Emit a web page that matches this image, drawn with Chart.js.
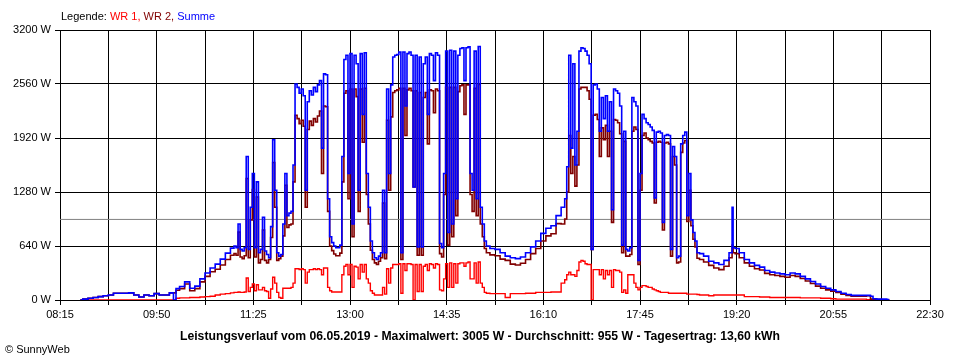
<!DOCTYPE html>
<html><head><meta charset="utf-8">
<script src="https://cdn.jsdelivr.net/npm/chart.js@4.4.1/dist/chart.umd.min.js"></script>
<style>
html,body{margin:0;padding:0;background:#fff;}
#wrap{position:relative;width:960px;height:360px;overflow:hidden;}
canvas{position:absolute;left:0;top:0;}
.t{position:absolute;font-family:"Liberation Sans",Arial,sans-serif;font-size:11px;white-space:nowrap;line-height:13px;color:#000;}
#title{left:0;width:960px;text-align:center;top:330px;font-weight:bold;font-size:12px;}
#title span{display:inline-block;transform-origin:50% 50%;}
</style></head><body>
<div id="wrap">
<canvas id="c" width="960" height="360"></canvas>
<div class="t" id="legend" style="left:61px;top:10px;">Legende: <span style="color:#ff0000">WR 1,</span> <span style="color:#800000">WR 2,</span> <span style="color:#0000ff">Summe</span></div>
<div class="t" id="title"><span id="titleText">Leistungsverlauf vom 06.05.2019 - Maximalwert: 3005 W - Durchschnitt: 955 W - Tagesertrag: 13,60 kWh</span></div>
<div class="t" id="copy" style="left:5px;top:343px;">© SunnyWeb</div>
</div>
<script>
// ---- data ----
const xTickLabels = ["08:15","09:50","11:25","13:00","14:35","16:10","17:45","19:20","20:55","22:30"];
const yTicks = [0, 640, 1280, 1920, 2560, 3200];
const average = 955;

const times = [
"08:35","08:40","08:45","08:50","08:55","09:00","09:05","09:10","09:15","09:20","09:25","09:30","09:35","09:40","09:45","09:50","09:55","10:00","10:05","10:08","10:10","10:15","10:20","10:25","10:30","10:35","10:40","10:45","10:50","10:55","11:00","11:05",
"11:07","11:09","11:11","11:13","11:15","11:17","11:19","11:21","11:23","11:25",
"11:27","11:29","11:31","11:33","11:35","11:37","11:39","11:41","11:43","11:45",
"11:47","11:49","11:51","11:53","11:55","11:57","11:59","12:01","12:03","12:05",
"12:07","12:09","12:11","12:13","12:15","12:17","12:19","12:21","12:23","12:25",
"12:27","12:29","12:31","12:33","12:35","12:37","12:39","12:41","12:43","12:45",
"12:47","12:49","12:51","12:53","12:55","12:57","12:59","13:01","13:03","13:05",
"13:07","13:09","13:11","13:13","13:15","13:17","13:19","13:21","13:23","13:25",
"13:27","13:29","13:31","13:33","13:35","13:37","13:39","13:41","13:43","13:45",
"13:47","13:49","13:51","13:53","13:55","13:57","13:59","14:01","14:03","14:05",
"14:07","14:09","14:11","14:13","14:15","14:17","14:19","14:21","14:23","14:25",
"14:27","14:29","14:31","14:33","14:35","14:37","14:39","14:41","14:43","14:45",
"14:47","14:49","14:51","14:53","14:55","14:57","14:59","15:01","15:03","15:05",
"15:07","15:09","15:11","15:13","15:15",
"15:20","15:25","15:30","15:35","15:40","15:45","15:50","15:55","16:00","16:05","16:10","16:15","16:20","16:25","16:30",
"16:32","16:34","16:36","16:38","16:40","16:42","16:44","16:46","16:48","16:50",
"16:52","16:54","16:56","16:58","17:00","17:02","17:04","17:06","17:08","17:10",
"17:12","17:14","17:16","17:18","17:20","17:22","17:24","17:26","17:28","17:30",
"17:32","17:34","17:36","17:38","17:40","17:42","17:44","17:46","17:48","17:50",
"17:52","17:54","17:56","17:58","18:00","18:02","18:04","18:06","18:08","18:10",
"18:12","18:14","18:16","18:18","18:20","18:22","18:24","18:26","18:28","18:30",
"18:32","18:34","18:36","18:38","18:40",
"18:42","18:45","18:50","18:55","19:00","19:05","19:10","19:15","19:16","19:17","19:20","19:25","19:30","19:35","19:40","19:45","19:50","19:55","20:00","20:05","20:10","20:15","20:20","20:25","20:30","20:35","20:40","20:45","20:50","20:55","21:00","21:05","21:10","21:15","21:20","21:25","21:30","21:33","21:35","21:40","21:45","21:50"
];

const summe = [
0,10,20,30,40,50,60,80,80,80,85,60,35,60,50,75,60,60,85,0,135,160,215,140,165,250,320,380,425,485,555,615,
640,620,900,600,580,620,1700,600,1100,1500,
620,1400,560,600,980,580,540,500,870,1900,
1300,560,520,540,900,1500,1000,1030,1050,1600,
2560,2520,2450,2500,2420,1300,2350,2480,2430,2520,
2470,2550,2600,1800,2680,2670,1200,750,680,640,
620,620,650,1700,2850,2900,1500,2920,900,2900,
2800,1300,2920,2200,2930,1500,1100,700,560,500,
480,520,560,1300,560,2500,1500,2550,2880,2900,
2910,2940,560,2940,2300,2920,2940,2900,1340,2900,
630,2880,630,2800,2880,2200,2920,2900,2600,2930,
2900,670,620,1500,2950,800,2960,900,2950,1200,
2900,2980,2990,2600,2990,3000,1500,1300,2950,1200,
3005,1100,900,700,640,
610,600,560,520,500,490,510,560,630,700,790,850,880,1000,1100,
1200,1580,2900,1800,2800,1600,2000,2950,2990,2980,
2950,2900,2800,600,2550,2560,2500,2000,2400,2150,
2420,2000,2350,1070,2500,2480,2450,2300,650,2000,
600,580,620,2400,2350,2300,470,1500,2200,2150,
2100,2080,2050,2010,1210,1990,2000,1980,920,1950,
1960,1950,600,1820,1700,500,520,1850,1950,1990,
1000,1500,950,800,700,
560,550,520,460,440,420,470,560,1100,620,610,560,480,440,410,390,350,330,320,310,300,320,310,280,250,220,190,160,140,120,100,80,65,55,55,55,55,45,15,10,10,5
];

const wr1 = [
0,0,0,0,0,0,0,0,0,0,0,0,0,0,0,0,0,0,0,0,20,25,25,30,30,35,40,45,60,70,75,85,
90,90,95,90,90,95,260,100,150,190,
110,180,120,120,150,110,100,20,130,270,
200,90,30,20,140,140,140,140,150,200,
370,370,360,370,360,200,330,360,360,370,
360,370,360,300,380,380,150,110,95,95,
95,95,95,300,400,420,300,420,150,400,
390,250,420,330,420,250,200,110,80,60,
60,60,60,150,70,370,200,380,420,420,
420,430,80,430,350,430,430,420,0,420,
100,420,100,400,420,350,430,420,380,430,
420,120,110,250,430,150,440,150,430,200,
430,440,440,400,440,450,250,250,440,200,
450,200,150,90,80,
75,75,75,30,75,75,75,80,80,90,90,90,95,95,200,
240,300,330,300,300,280,350,450,470,460,
430,420,420,0,360,360,360,300,360,250,
350,300,350,150,360,350,350,330,90,120,
80,300,300,300,200,150,120,150,170,170,
160,150,150,130,120,110,100,90,90,90,
90,80,80,80,80,80,80,80,80,80,
70,70,70,70,70,
65,60,60,50,60,60,60,60,60,60,60,60,40,40,40,35,35,30,30,30,30,30,30,25,25,25,25,20,20,15,10,10,10,10,10,10,5,0,0,0,0,0
];

const wr2 = [
0,10,20,30,40,50,60,80,80,80,85,60,35,60,50,75,60,60,85,85,115,135,190,110,135,215,280,335,365,415,480,530,
550,530,805,510,490,525,1440,500,950,1310,
510,1220,440,480,830,470,440,480,740,1630,
1100,470,490,520,760,1360,860,890,900,1400,
2190,2150,2090,2130,2060,1100,2020,2120,2070,2150,
2110,2180,2240,1500,2300,2290,1050,640,585,545,
525,525,555,1400,2450,2480,1200,2500,750,2500,
2410,1050,2500,1870,2510,1250,900,590,480,440,
420,460,500,1150,490,2130,1300,2170,2460,2480,
2490,2510,480,2510,1950,2490,2510,2480,1340,2480,
530,2460,530,2400,2460,1850,2490,2480,2220,2500,
2480,550,510,1250,2520,650,2520,750,2520,1000,
2470,2540,2550,2200,2550,2550,1250,1050,2510,1000,
2555,900,750,610,560,
535,525,485,470,425,415,435,480,550,610,700,760,785,905,900,
960,1280,1950,1500,1700,1350,1600,2500,2520,2520,
2520,2480,2380,600,2190,2200,2140,1700,2040,1900,
2070,1700,2000,920,2140,2130,2100,1970,560,1880,
520,520,540,2000,2050,2020,420,1300,1950,1980,
1920,1900,1880,1860,1150,1870,1880,1870,830,1860,
1870,1850,520,1700,1600,440,450,1750,1860,1890,
930,1300,880,720,630,
495,480,450,410,380,360,400,500,650,560,550,500,440,400,370,355,315,300,290,280,270,290,280,255,225,195,165,140,120,105,90,70,55,45,45,45,50,10,10,5,0,0
];

// ---- helpers ----
const toMin = s => { const p = s.split(':').map(Number); return p[0]*60 + p[1]; };
const pts = vals => times.map((t,i) => ({x: toMin(t), y: vals[i]}));
const labelMins = xTickLabels.map(toMin);
const xMin = labelMins[0], xMax = labelMins[labelMins.length-1];
const gridMins = [];
labelMins.forEach((v,i) => { gridMins.push(v); if (i < labelMins.length-1) gridMins.push((v + labelMins[i+1]) / 2); });
const labelMap = {}; xTickLabels.forEach((l,i) => labelMap[labelMins[i]] = l);

const FONT = '"Liberation Sans", Arial, sans-serif';
const lineDs = (label, vals, color, w) => ({
  label, data: pts(vals), borderColor: color, backgroundColor: color,
  borderWidth: w, pointRadius: 0, tension: 0, stepped: 'middle', borderJoinStyle: 'miter', fill: false
});

new Chart(document.getElementById('c').getContext('2d'), {
  type: 'line',
  data: { datasets: [
    lineDs('Summe', summe, '#0000ff', 1.6),
    lineDs('WR 2', wr2, '#800000', 1.6),
    lineDs('WR 1', wr1, '#ff0000', 1.4),
    { label: 'Durchschnitt', data: [{x:xMin, y:average}, {x:xMax, y:average}],
      borderColor: '#808080', borderWidth: 1, pointRadius: 0, fill: false }
  ]},
  options: {
    responsive: false, animation: false, devicePixelRatio: 1,
    layout: { padding: { left: 0, right: 30, top: 30, bottom: 0 } },
    plugins: { legend: { display: false }, tooltip: { enabled: false }, title: { display: false } },
    scales: {
      x: {
        type: 'linear', min: xMin, max: xMax,
        afterBuildTicks: s => { s.ticks = gridMins.map(v => ({ value: v })); },
        afterFit: s => { s.height = 60; },
        ticks: { autoSkip: false, maxRotation: 0, minRotation: 0, padding: 3, color: '#000',
                 font: { family: FONT, size: 11 }, callback: v => (labelMap[v] !== undefined ? labelMap[v] : '') },
        grid: { color: '#000', lineWidth: 1, tickLength: 5, drawOnChartArea: true, drawTicks: true },
        border: { display: true, color: '#000', width: 1 }
      },
      y: {
        min: 0, max: 3200,
        afterBuildTicks: s => { s.ticks = yTicks.map(v => ({ value: v })); },
        afterFit: s => { s.width = 60; },
        ticks: { padding: 4, color: '#000', font: { family: FONT, size: 11 }, callback: v => v + ' W' },
        grid: { color: '#000', lineWidth: 1, tickLength: 5, drawOnChartArea: true, drawTicks: true },
        border: { display: true, color: '#000', width: 1 }
      }
    }
  }
});

// fit bottom title to its width in the reference
const tt = document.getElementById('titleText');
const w = tt.getBoundingClientRect().width;
if (w > 0) tt.style.transform = 'scaleX(' + (600 / w).toFixed(3) + ')';
</script>
</body></html>
